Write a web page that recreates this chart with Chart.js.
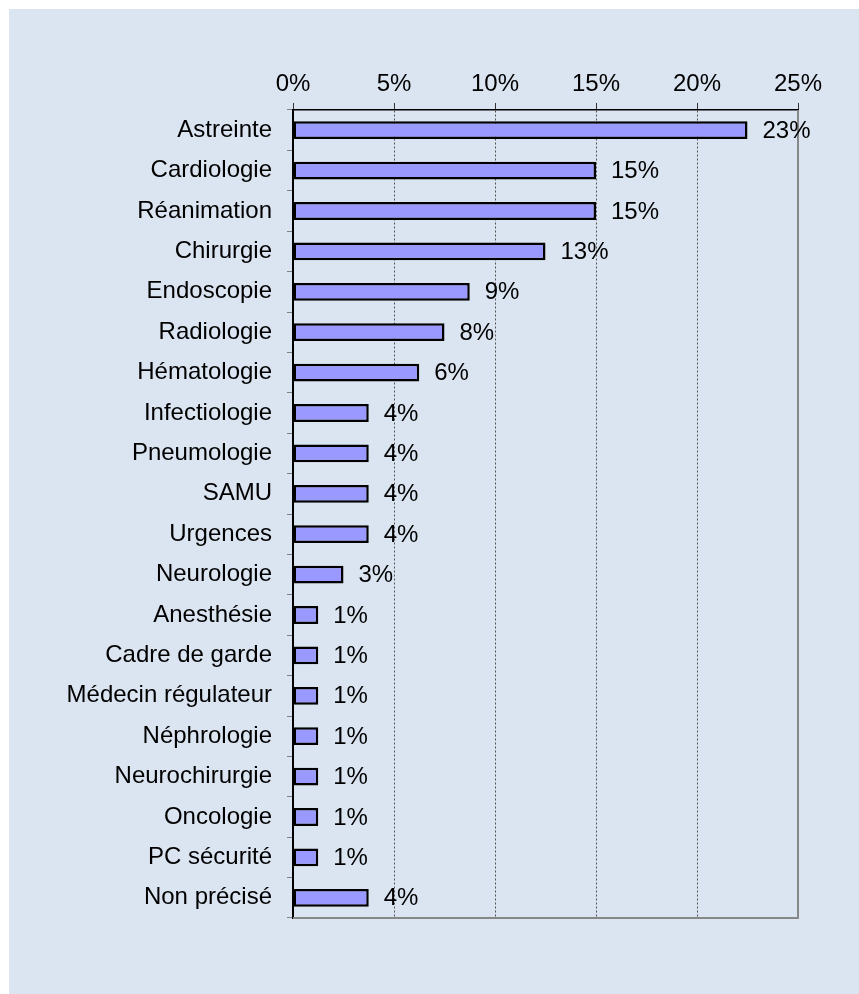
<!DOCTYPE html>
<html>
<head>
<meta charset="utf-8">
<script src="https://cdn.jsdelivr.net/npm/chart.js@4.4.1/dist/chart.umd.min.js"></script>
<style>
    html, body { margin: 0; padding: 0; background: #fff; }
    #wrap { width: 859px; height: 994px; position: relative; }
</style>
</head>
<body>
<div id="wrap"><canvas id="chart-services"></canvas></div>
<script>
// Services (ordre du graphique, de haut en bas)
const categories = [
    'Astreinte', 'Cardiologie', 'Réanimation', 'Chirurgie', 'Endoscopie',
    'Radiologie', 'Hématologie', 'Infectiologie', 'Pneumologie', 'SAMU',
    'Urgences', 'Neurologie', 'Anesthésie', 'Cadre de garde', 'Médecin régulateur',
    'Néphrologie', 'Neurochirurgie', 'Oncologie', 'PC sécurité', 'Non précisé'
];
// Part en %
const shares = [
    22.5, 15, 15, 12.5, 8.75,
    7.5, 6.25, 3.75, 3.75, 3.75,
    3.75, 2.5, 1.25, 1.25, 1.25,
    1.25, 1.25, 1.25, 1.25, 3.75
];
const xTickValues = [0, 5, 10, 15, 20, 25];

const FONT = '"Liberation Sans", Arial, sans-serif';
const FONT_SIZE = 24;
const PANEL = '#dbe5f1';

// fond bleu clair (cadre du graphique)
const panelBg = {
    id: 'panelBg',
    beforeDraw(chart) {
        const { ctx, width, height } = chart;
        ctx.save();
        ctx.fillStyle = '#ffffff';
        ctx.fillRect(0, 0, width, height);
        ctx.fillStyle = PANEL;
        ctx.fillRect(9, 9, width - 9, height - 9);
        ctx.restore();
    }
};

// bordure grise droite + bas de la zone de tracé
const plotFrame = {
    id: 'plotFrame',
    beforeDatasetsDraw(chart) {
        const { ctx, chartArea: a } = chart;
        ctx.save();
        ctx.strokeStyle = '#878787';
        ctx.lineWidth = 2;
        ctx.beginPath();
        ctx.moveTo(a.left, a.bottom);
        ctx.lineTo(a.right, a.bottom);
        ctx.lineTo(a.right, a.top);
        ctx.stroke();
        ctx.restore();
    }
};

// étiquettes de valeur
const valueLabels = {
    id: 'valueLabels',
    afterDatasetsDraw(chart) {
        const ctx = chart.ctx;
        const meta = chart.getDatasetMeta(0);
        ctx.save();
        ctx.font = FONT_SIZE + 'px ' + FONT;
        ctx.fillStyle = '#000';
        ctx.textAlign = 'left';
        ctx.textBaseline = 'middle';
        meta.data.forEach((bar, i) => {
            ctx.fillText(Math.round(shares[i]) + '%', bar.x + 15, bar.y + 1);
        });
        ctx.restore();
    }
};

new Chart(document.getElementById('chart-services'), {
    type: 'bar',
    data: {
        labels: categories,
        datasets: [{
            data: shares,
            backgroundColor: '#9999ff',
            borderColor: '#000000',
            borderWidth: 2.5,
            borderSkipped: false,
            categoryPercentage: 1,
            barPercentage: 0.44
        }]
    },
    options: {
        indexAxis: 'y',
        responsive: true,
        maintainAspectRatio: false,
        devicePixelRatio: 1,
        animation: false,
        layout: { padding: { top: 0, left: 0, right: 61, bottom: 76 } },
        plugins: {
            legend: { display: false },
            tooltip: { enabled: false }
        },
        scales: {
            x: {
                position: 'top',
                min: 0,
                max: 25,
                afterBuildTicks: s => { s.ticks = xTickValues.map(v => ({ value: v })); },
                afterFit: s => { s.height = 110; },
                ticks: {
                    padding: 4,
                    color: '#000',
                    font: { size: FONT_SIZE, family: FONT },
                    callback: v => v + '%'
                },
                grid: {
                    color: c => (c.tick && (c.tick.value === 0 || c.tick.value === 25)) ? 'rgba(0,0,0,0)' : '#555555',
                    lineWidth: 1,
                    tickLength: 7,
                    tickColor: '#333333'
                },
                border: { display: true, color: '#000', width: 1.5, dash: [2, 2] }
            },
            y: {
                afterFit: s => { s.width = 293; },
                ticks: {
                    padding: 15,
                    color: '#000',
                    font: { size: FONT_SIZE, family: FONT }
                },
                grid: {
                    offset: true,
                    drawOnChartArea: false,
                    tickLength: 6,
                    tickColor: '#808080',
                    color: '#808080'
                },
                border: { display: true, color: '#000', width: 2 }
            }
        }
    },
    plugins: [panelBg, plotFrame, valueLabels]
});
</script>
</body>
</html>
